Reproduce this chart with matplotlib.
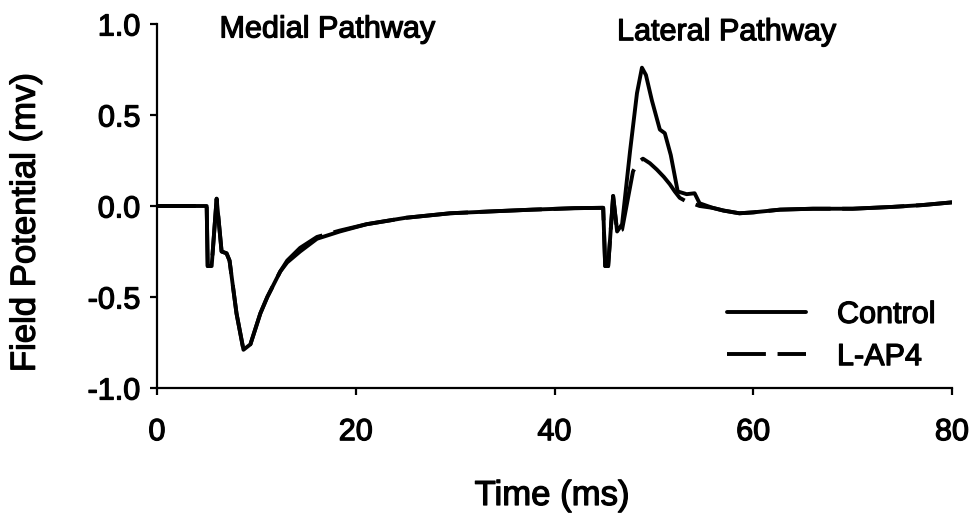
import matplotlib
matplotlib.use('Agg')
from matplotlib import pyplot as plt
import matplotlib.patheffects as pe

# values
control_t = [0, 5.0, 5.1, 5.5, 6.0, 6.5, 7.0, 7.3, 8.0, 8.7, 9.4, 10.4, 11.1, 12.4,
             13.1, 14.4, 16.1, 18.4, 21.1, 25.0, 29.5, 33.5, 37.8, 42.0, 44.8,
             44.9, 45.1, 45.4, 45.9, 46.3, 46.8, 47.6, 48.3, 48.8, 49.2, 49.8,
             50.6, 51.1, 51.7, 52.4, 53.3, 54.1, 54.6, 55.9, 57.0, 58.6, 60.0,
             62.7, 66.0, 70.0, 74.0, 77.0, 80.0]
control_v = [0.0, 0.0, -0.33, -0.33, 0.04, -0.25, -0.26, -0.30, -0.59, -0.79, -0.76,
             -0.59, -0.50, -0.36, -0.31, -0.25, -0.18, -0.14, -0.10, -0.065, -0.04,
             -0.03, -0.02, -0.012, -0.01,
             -0.01, -0.33, -0.33, 0.055, -0.14, -0.10, 0.30, 0.62, 0.76, 0.72, 0.58,
             0.42, 0.40, 0.28, 0.08, 0.065, 0.07, 0.015, -0.01, -0.025, -0.04, -0.035,
             -0.02, -0.015, -0.015, -0.005, 0.005, 0.02]

lap4_t = [0, 5.0, 5.1, 5.5, 6.0, 6.5, 7.0, 7.3, 8.0, 8.7, 9.4, 10.4, 11.1, 12.4,
          13.1, 14.4, 16.1, 18.4, 21.1, 25.0, 29.5, 33.5, 37.8, 42.0, 44.8,
          44.9, 45.1, 45.4, 45.9, 46.3, 46.8, 47.9, 48.4, 48.9, 49.6, 50.3,
          51.0, 51.6, 52.1, 52.6, 53.1, 53.6, 54.6, 55.9, 57.0, 58.6, 60.0,
          62.7, 66.0, 70.0, 74.0, 77.0, 80.0]
lap4_v = [0.0, 0.0, -0.33, -0.33, 0.04, -0.25, -0.26, -0.30, -0.59, -0.79, -0.76,
          -0.59, -0.50, -0.36, -0.30, -0.23, -0.17, -0.135, -0.10, -0.065, -0.04,
          -0.03, -0.02, -0.012, -0.01,
          -0.01, -0.33, -0.33, 0.055, -0.14, -0.13, 0.19, 0.24, 0.26, 0.235, 0.20,
          0.16, 0.12, 0.08, 0.045, 0.03, 0.02, 0.0, -0.01, -0.025, -0.04, -0.035,
          -0.02, -0.015, -0.015, -0.005, 0.005, 0.02]

x_ticks = [0, 20, 40, 60, 80]
y_ticks = [-1.0, -0.5, 0.0, 0.5, 1.0]
y_tick_labels = ['-1.0', '-0.5', '0.0', '0.5', '1.0']

plt.rcParams['font.family'] = ['Liberation Sans', 'DejaVu Sans']
# scanned text looks heavier than plain regular weight
thick = [pe.withStroke(linewidth=0.9, foreground='black')]

fig = plt.figure(figsize=(9.74, 5.22), dpi=100)
ax = fig.add_axes([157 / 974, 1 - 388 / 522, 795 / 974, 364 / 522])

ax.plot(control_t, control_v, color='black', lw=2.8, label='Control',
        solid_joinstyle='round', solid_capstyle='round')
ax.plot(lap4_t, lap4_v, color='black', lw=2.8, ls=(6, (16, 3)), label='L-AP4')

ax.set_xlim(0, 80)
ax.set_ylim(-1.0, 1.0)
ax.set_xticks(x_ticks)
ax.set_yticks(y_ticks)
ax.set_yticklabels(y_tick_labels)

for side in ['top', 'right']:
    ax.spines[side].set_visible(False)
for side in ['left', 'bottom']:
    ax.spines[side].set_linewidth(1.6)

ax.tick_params(axis='x', direction='out', length=5, width=1.6, labelsize=22, pad=16)
ax.tick_params(axis='y', direction='out', length=5, width=1.6, labelsize=22, pad=7)
for lbl in ax.get_xticklabels() + ax.get_yticklabels():
    lbl.set_path_effects(thick)

ax.set_xlabel('Time (ms)', fontsize=25, path_effects=thick)
ax.set_ylabel('Field Potential (mv)', fontsize=25, path_effects=thick)
ax.xaxis.set_label_coords(0.497, -0.25)
ax.yaxis.set_label_coords(-0.145, 0.455)

ax.text(17.1, 0.97, 'Medial Pathway', fontsize=22, ha='center', va='center',
        path_effects=thick)
ax.text(57.3, 0.955, 'Lateral Pathway', fontsize=22, ha='center', va='center',
        path_effects=thick)

leg = ax.legend(loc='center left', bbox_to_anchor=(727 / 974, 1 - 336 / 522),
                bbox_transform=fig.transFigure, frameon=False, fontsize=22,
                borderpad=0, borderaxespad=0, handlelength=2.6, handletextpad=1.0,
                labelspacing=0.4)
for t in leg.get_texts():
    t.set_path_effects(thick)

fig.savefig('out.png', dpi=100)
plt.close(fig)
